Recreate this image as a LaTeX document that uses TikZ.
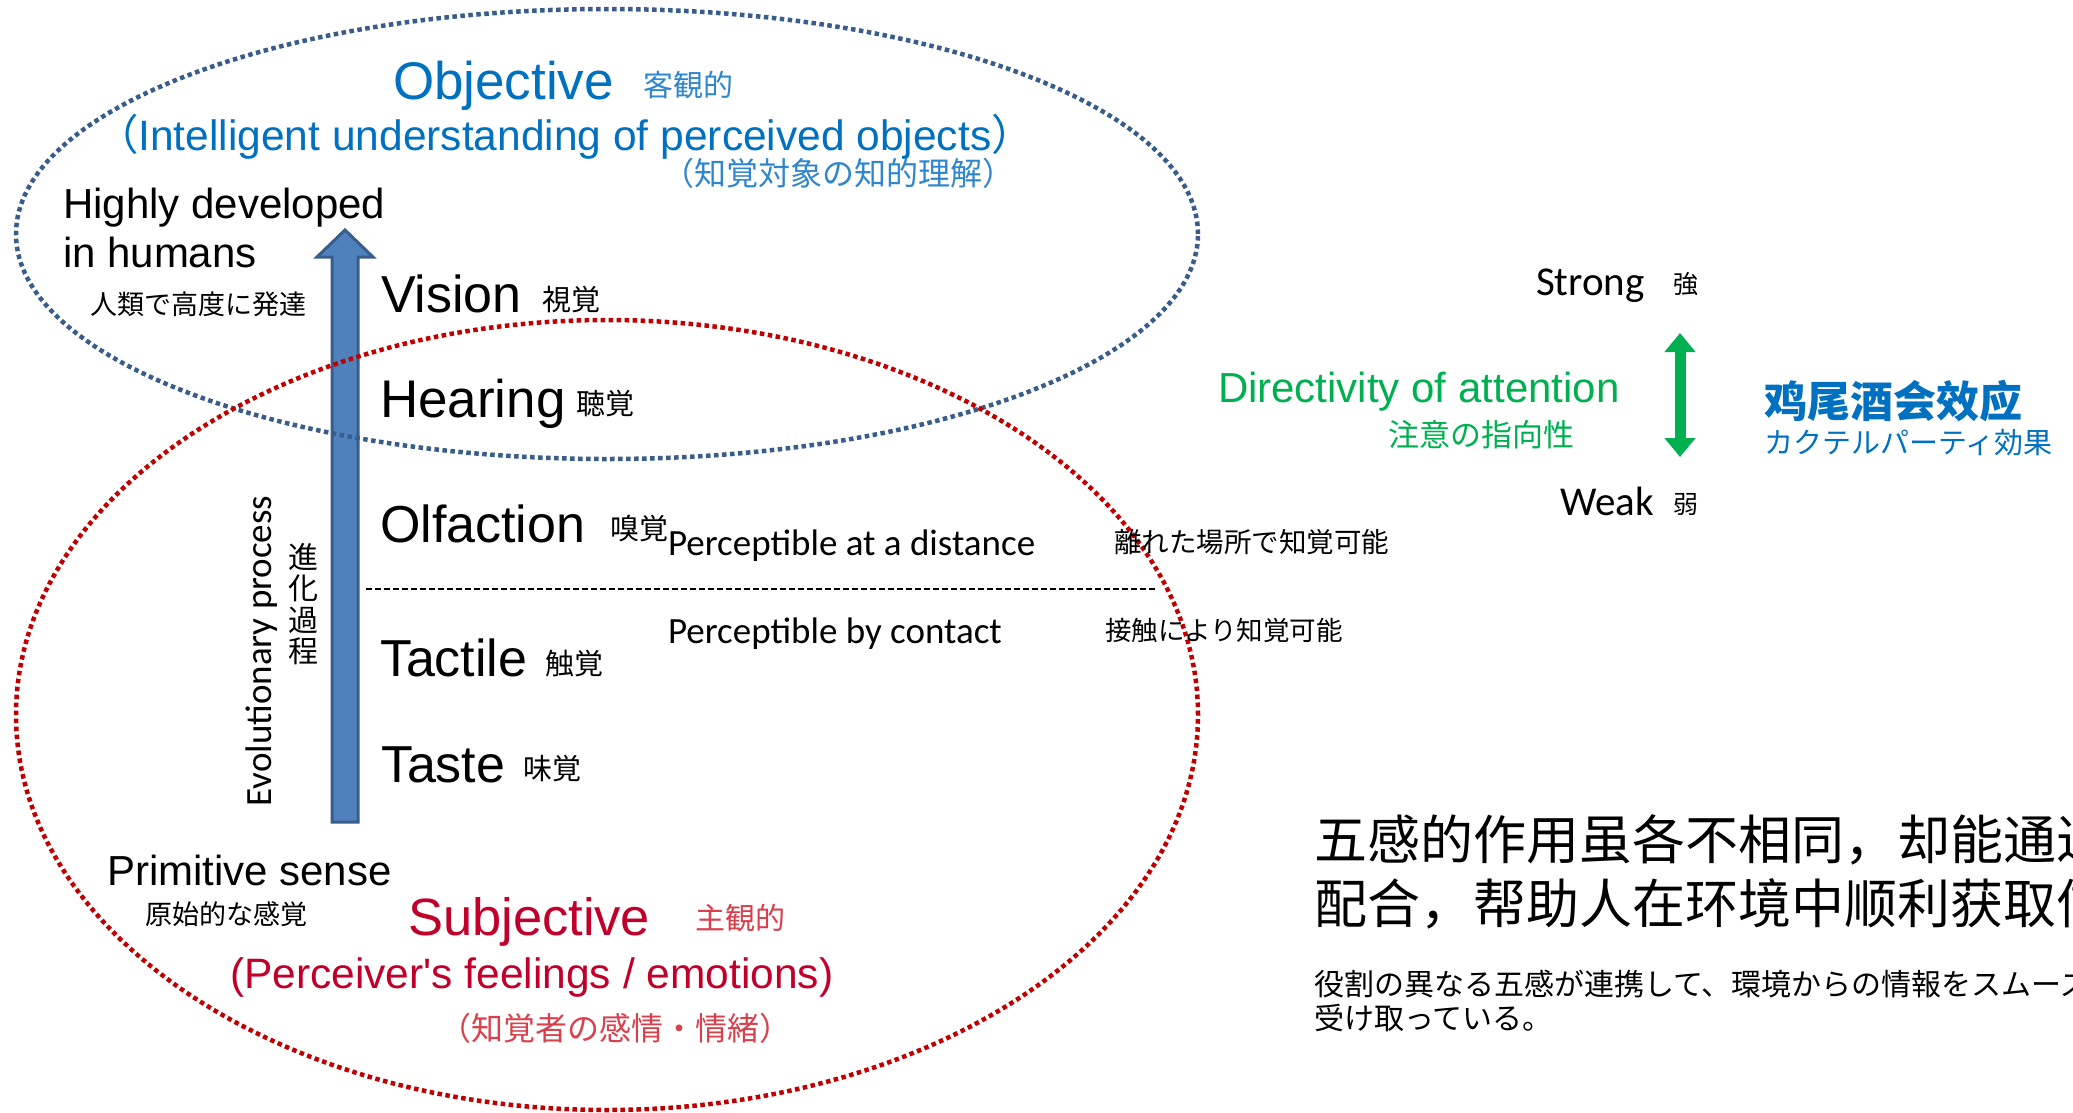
\documentclass[tikz,border=0pt]{standalone}
\usepackage{fontspec}
\setmainfont{Liberation Sans}
\newfontfamily\plainsans[Ligatures=ResetAll]{Liberation Sans}
\newfontfamily\calfont{Carlito}
\newfontfamily\jpfont{Noto Sans CJK JP}
\newfontfamily\scfont{Noto Sans CJK SC}
\usetikzlibrary{arrows.meta}
\definecolor{objblue}{HTML}{0070C0}
\definecolor{objbluelt}{HTML}{2F86CC}
\definecolor{ellblue}{HTML}{385D8A}
\definecolor{ellred}{HTML}{C00000}
\definecolor{subred}{HTML}{C0002A}
\definecolor{subredlt}{HTML}{D8404C}
\definecolor{attgreen}{HTML}{00B050}
\definecolor{arrfill}{HTML}{4F81BD}
\newcommand\myfs[1]{\fontsize{#1}{#1}\selectfont}
\begin{document}
\begin{tikzpicture}[x=1pt,y=-1pt,
  txt/.style={inner sep=0pt, outer sep=0pt, anchor=base west},
  ctxt/.style={inner sep=0pt, outer sep=0pt, anchor=base},
  bigsense/.style={txt, font=\myfs{52}},
  jpsmall/.style={txt, font=\jpfont\myfs{29}},
  dotblue/.style={draw=ellblue, line width=4.5pt, dash pattern=on 4.5pt off 3.5pt},
  dotred/.style={draw=ellred, line width=4.5pt, dash pattern=on 4.5pt off 3.5pt},
  blockarrow/.style={fill=arrfill, draw=ellblue, line width=3pt, line join=miter},
  splitline/.style={draw=black, line width=2pt, dash pattern=on 6pt off 3pt},
  attarrow/.style={draw=attgreen, line width=11pt, {Triangle[width=30pt,length=19pt]}-{Triangle[width=30pt,length=19pt]}}
]
\useasboundingbox (0,0) rectangle (2073,1112);
\fill[white] (0,0) rectangle (2073,1112);
\clip (0,0) rectangle (2073,1112);

% evolutionary block arrow
\coordinate (evoBot) at (345,822);
\coordinate (evoTop) at (345,230);
\path[blockarrow] ([xshift=-13pt]evoBot) -- ([xshift=-13pt,yshift=-27pt]evoTop) -- ([xshift=-28pt,yshift=-27pt]evoTop)
  -- (evoTop) -- ([xshift=28pt,yshift=-27pt]evoTop) -- ([xshift=13pt,yshift=-27pt]evoTop) -- ([xshift=13pt]evoBot) -- cycle;

% ellipses
\path[dotblue] (607,234) ellipse [x radius=591pt, y radius=225pt];
\path[dotred] (607,715) ellipse [x radius=591pt, y radius=395pt];

% objective block
\node[txt, font=\myfs{53}, text=objblue] (obj) at (393,99) {Objective};
\node[txt, font=\jpfont\myfs{30}, text=objbluelt] (objjp) at (643,96) {客観的};
\node[ctxt, font=\myfs{42.5}, text=objblue] (objdesc) at (565,150) {{\jpfont （}Intelligent understanding of perceived objects{\jpfont ）}};
\node[ctxt, font=\jpfont\myfs{32}, text=objbluelt] (objdescjp) at (838,185) {（知覚対象の知的理解）};

% highly developed
\node[txt, font=\myfs{42}] (high1) at (63,218) {Highly developed};
\node[txt, font=\myfs{42}] (high2) at (63,267) {in humans};
\node[txt, font=\jpfont\myfs{27}] (highjp) at (90,314) {人類で高度に発達};

% senses
\node[bigsense] (vision) at (381,312) {Vision};
\node[jpsmall] (visionjp) at (542,310) {視覚};
\node[bigsense, font=\myfs{53}] (hearing) at (380,417) {Hearing};
\node[jpsmall] (hearingjp) at (576,414) {聴覚};
\node[bigsense] (olf) at (380,542) {Olfaction};
\node[jpsmall] (olfjp) at (610,539) {嗅覚};
\node[bigsense] (tactile) at (380,676) {Tactile};
\node[jpsmall] (tactilejp) at (545,674) {触覚};
\node[bigsense] (taste) at (381,782) {Taste};
\node[jpsmall] (tastejp) at (523,779) {味覚};

% distance / contact
\node[txt, font=\calfont\myfs{37}] (dist) at (668,555) {Perceptible at a distance};
\node[txt, font=\jpfont\myfs{27.5}] (distjp) at (1114,552) {離れた場所で知覚可能};
\coordinate (splitL) at (366,589);
\coordinate (splitR) at (1157,589);
\draw[splitline] (splitL) -- (splitR);
\node[txt, font=\calfont\myfs{37}] (cont) at (668,643) {Perceptible by contact};
\node[txt, font=\jpfont\myfs{26.5}] (contjp) at (1105,640) {接触により知覚可能};

% evolutionary process
\node[ctxt, rotate=90, font=\calfont\myfs{37}] (evo) at (271,651) {Evolutionary process};
\node[inner sep=0pt, align=center, font=\jpfont\fontsize{30}{31.5}\selectfont] (evojp) at (303,604) {進\\化\\過\\程};

% primitive
\node[txt, font=\myfs{42}] (prim) at (107,885) {Primitive sense};
\node[txt, font=\jpfont\myfs{27}] (primjp) at (145,924) {原始的な感覚};

% subjective block
\node[txt, font=\myfs{52.5}, text=subred] (subj) at (408,935) {Subjective};
\node[txt, font=\jpfont\myfs{30}, text=subredlt] (subjjp) at (695,929) {主観的};
\node[txt, font=\plainsans\myfs{42.5}, text=subred] (subjdesc) at (230,988) {(Perceiver's feelings / emotions)};
\node[ctxt, font=\jpfont\myfs{32}, text=subredlt] (subjdescjp) at (615,1040) {（知覚者の感情・情緒）};

% attention
\node[txt, font=\calfont\myfs{41}] (strong) at (1536,295) {Strong};
\node[txt, font=\jpfont\myfs{25}] (strongjp) at (1673,293) {強};
\node[txt, font=\calfont\myfs{41}] (weak) at (1560,515) {Weak};
\node[txt, font=\jpfont\myfs{25}] (weakjp) at (1673,513) {弱};
\coordinate (gTop) at (1680,333);
\coordinate (gBot) at (1680,457);
\draw[attarrow] (gTop) -- (gBot);
\node[txt, font=\myfs{42}, text=attgreen] (dir) at (1218,402) {Directivity of attention};
\node[txt, font=\jpfont\myfs{31}, text=attgreen] (dirjp) at (1388,446) {注意の指向性};
\node[txt, font=\scfont\bfseries\myfs{43}, text=objblue] (cock) at (1764,417) {鸡尾酒会效应};
\node[txt, font=\jpfont\myfs{29}, text=objblue] (cockjp) at (1764,453) {カクテルパーティ効果};

% summary (clipped at the right edge, as in the reference)
\node[txt, font=\scfont\myfs{53}] (sum1) at (1314,859) {五感的作用虽各不相同，却能通过};
\node[txt, font=\scfont\myfs{53}] (sum2) at (1314,923) {配合，帮助人在环境中顺利获取信};
\node[txt, font=\jpfont\myfs{30}] (sum3) at (1314,995) {役割の異なる五感が連携して、環境からの情報をスムーズ};
\node[txt, font=\jpfont\myfs{30}] (sum4) at (1314,1029) {受け取っている。};
\end{tikzpicture}
\end{document}
